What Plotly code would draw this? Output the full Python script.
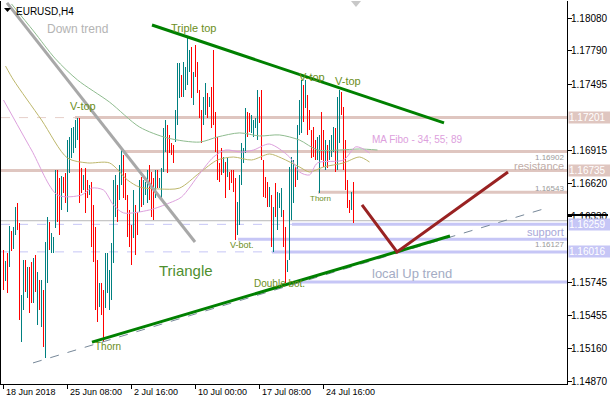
import plotly.graph_objects as go

# ---------------- data ----------------
bar_high = [1.16033, 1.15935, 1.16007, 1.16244, 1.16200, 1.16235, 1.16412, 1.16448, 1.16271, 1.15636,
 1.15944, 1.15944, 1.15882, 1.15882, 1.15926, 1.15962, 1.15989, 1.15838, 1.15768, 1.15768,
 1.15680, 1.16103, 1.16324, 1.16279, 1.16183, 1.16147, 1.16739, 1.16739, 1.16668, 1.16686,
 1.16677, 1.16713, 1.17003, 1.17030, 1.17109, 1.17118, 1.17180, 1.17197, 1.17197, 1.16756,
 1.16695, 1.16756, 1.16650, 1.16606, 1.16632, 1.16430, 1.16235, 1.15944, 1.15742, 1.15742,
 1.15680, 1.16007, 1.16007, 1.15856, 1.16095, 1.16650, 1.16695, 1.16606, 1.16783, 1.16915,
 1.16871, 1.16713, 1.16518, 1.16386, 1.16253, 1.16562, 1.16430, 1.16368, 1.16650, 1.16677,
 1.16650, 1.16632, 1.16739, 1.16783, 1.16721, 1.16668, 1.16739, 1.16739, 1.16668, 1.16756,
 1.17109, 1.17180, 1.17136, 1.17048, 1.16977, 1.16959, 1.17268, 1.17683, 1.17683, 1.17577,
 1.17691, 1.17647, 1.17921, 1.17798, 1.17824, 1.17603, 1.17842, 1.17691, 1.17445, 1.17268,
 1.17383, 1.17507, 1.17419, 1.17383, 1.17471, 1.17798, 1.17250, 1.17030, 1.16801, 1.16932,
 1.16853, 1.16809, 1.16844, 1.16721, 1.16739, 1.16739, 1.16668, 1.16456, 1.16695, 1.16977,
 1.16932, 1.17285, 1.17250, 1.17242, 1.17224, 1.17180, 1.17197, 1.17445, 1.17383, 1.17445,
 1.16827, 1.16677, 1.16632, 1.16588, 1.16518, 1.16412, 1.16624, 1.16544, 1.16536, 1.16579,
 1.16386, 1.16235, 1.15944, 1.16765, 1.16853, 1.16827, 1.16765, 1.17136, 1.17356, 1.17533,
 1.17489, 1.17533, 1.17401, 1.17268, 1.17092, 1.17118, 1.17003, 1.17030, 1.17048, 1.17250,
 1.17092, 1.17003, 1.16959, 1.17003, 1.17048, 1.17118, 1.17109, 1.17383, 1.17445, 1.17427,
 1.17294, 1.17003, 1.16650, 1.16474, 1.16544, 1.16632]

bar_low = [1.15680, 1.15759, 1.15654, 1.15882, 1.16024, 1.16042, 1.16165, 1.16209, 1.15415, 1.15220,
 1.15503, 1.15662, 1.15609, 1.15477, 1.15565, 1.15565, 1.15662, 1.15371, 1.15503, 1.15353,
 1.15176, 1.15079, 1.15742, 1.16033, 1.16007, 1.16007, 1.16226, 1.16279, 1.16165, 1.16386,
 1.16536, 1.16448, 1.16368, 1.16713, 1.16844, 1.16889, 1.16932, 1.17003, 1.16448, 1.16536,
 1.16562, 1.16360, 1.16491, 1.16518, 1.16059, 1.15926, 1.15503, 1.15397, 1.15529, 1.15459,
 1.15220, 1.15520, 1.15654, 1.15503, 1.15591, 1.15918, 1.16324, 1.16279, 1.16474, 1.16606,
 1.16491, 1.16474, 1.16147, 1.16059, 1.15900, 1.16138, 1.15989, 1.16165, 1.16368, 1.16412,
 1.16430, 1.16518, 1.16448, 1.16474, 1.16324, 1.16297, 1.16491, 1.16579, 1.16579, 1.16491,
 1.16721, 1.16897, 1.16713, 1.16889, 1.16871, 1.16801, 1.16985, 1.17136, 1.17374, 1.17383,
 1.17383, 1.17445, 1.17489, 1.17603, 1.17374, 1.17312, 1.17559, 1.17419, 1.17197, 1.16977,
 1.17136, 1.17224, 1.17197, 1.17294, 1.17109, 1.17136, 1.16897, 1.16650, 1.16632, 1.16695,
 1.16713, 1.16491, 1.16677, 1.16562, 1.16624, 1.16544, 1.16121, 1.16165, 1.16253, 1.16606,
 1.16801, 1.16889, 1.17030, 1.17074, 1.17066, 1.17030, 1.17109, 1.17003, 1.17154, 1.16827,
 1.16500, 1.16491, 1.16412, 1.16412, 1.16059, 1.16015, 1.16324, 1.16209, 1.16403, 1.16324,
 1.16059, 1.15742, 1.15838, 1.15944, 1.16297, 1.16448, 1.16588, 1.16650, 1.17048, 1.17066,
 1.17162, 1.17285, 1.17048, 1.17092, 1.16844, 1.16853, 1.16827, 1.16827, 1.16536, 1.16827,
 1.16765, 1.16739, 1.16756, 1.16827, 1.16853, 1.16897, 1.16721, 1.16739, 1.16977, 1.17224,
 1.16739, 1.16562, 1.16403, 1.16360, 1.16386, 1.16271]

bar_up = [0,1,0,1,0,1,1,0,0,1, 1,0,1,0,0,1,0,1,0,1, 0,1,1,0,1,1,1,0,0,1,
          0,0,1,1,1,1,1,1,0,0, 1,0,0,1,0,0,0,0,1,0, 0,1,1,1,1,1,1,0,1,1,
          0,0,0,0,0,1,0,0,1,0, 1,1,1,0,0,0,1,0,1,1, 1,1,0,0,0,0,1,1,1,0,
          1,1,1,1,0,1,0,0,0,0, 1,1,0,1,0,0,0,0,0,0, 1,0,1,0,0,0,0,1,1,1,
          1,1,0,0,1,1,1,1,0,0, 0,0,0,1,0,1,0,1,1,1, 0,0,1,1,1,1,0,1,1,1,
          0,1,0,0,0,0,0,1,1,0, 0,1,0,1,1,1,0,1,1,0, 0,0,0,0,1,0]

# moving averages (Fibo 34 / 55 / 89) read at sample bars
ma34_bar = [0, 14, 27, 39, 44, 50, 55, 60, 73, 83, 89, 98, 105, 111, 119, 125, 133, 143, 148, 153, 157, 170, 176, 179, 183]
ma34_val = [1.17356, 1.16915, 1.16518, 1.16518, 1.16579, 1.16562, 1.16430, 1.16360, 1.16386, 1.16448, 1.16500,
            1.16704, 1.16853, 1.16915, 1.16897, 1.16915, 1.16968, 1.16853, 1.16721, 1.16695, 1.16801, 1.16827,
            1.16942, 1.16932, 1.16889]
ma55_bar = [1, 5, 19, 32, 42, 53, 62, 68, 78, 88, 98, 107, 115, 124, 133, 139, 148, 153, 160, 170, 178, 183]
ma55_val = [1.17656, 1.17533, 1.17180, 1.16844, 1.16801, 1.16801, 1.16650, 1.16588, 1.16571, 1.16579, 1.16713,
            1.16827, 1.16853, 1.16827, 1.16880, 1.16844, 1.16765, 1.16721, 1.16765, 1.16801, 1.16853, 1.16809]
ma89_bar = [4, 15, 26, 37, 53, 68, 82, 98, 107, 118, 128, 138, 148, 157, 168, 178, 187]
ma89_val = [1.18204, 1.17965, 1.17719, 1.17533, 1.17338, 1.17118, 1.17021, 1.16985, 1.17030, 1.17066, 1.17039,
            1.17048, 1.17003, 1.16915, 1.16915, 1.16924, 1.16915]

# analyst drawings (bar index, price)
down_trend_x, down_trend_y = [1.75, 95.75], [1.18213, 1.16103]
tri_upper_x, tri_upper_y = [74.25, 220.25], [1.18018, 1.17154]
tri_lower_x, tri_lower_y = [44.25, 223.25], [1.15220, 1.16156]
base_line_x, base_line_y = [14.75, 273.25], [1.15036, 1.16412]
projection_x, projection_y = [179.25, 196.75, 252.25], [1.16430, 1.16015, 1.16721]

# horizontal levels
res_prices = [1.17201, 1.16902, 1.16735, 1.16543]
res_start = [35.75, 59.75, -1.25, 157.25]
sup_prices = [1.16259, 1.16127, 1.16016, 1.15750]
sup_start = [144.25, 117.25, 134.25, 148.25]
dashed_res = [1.17201]
dashed_sup = [1.16259, 1.16016]
gray_level = 1.16291
bid_price = 1.16342

price_ticks = [1.18080, 1.17790, 1.17495, 1.16915, 1.16620, 1.16330, 1.15745, 1.15455, 1.15160, 1.14870]
price_tick_text = ["1.18080", "1.17790", "1.17495", "1.16915", "1.16620", "1.16330",
                   "1.15745", "1.15455", "1.15160", "1.14870"]
hl_text = ["1.17201", "1.16735", "1.16259", "1.16016"]
hl_price = [1.17201, 1.16735, 1.16259, 1.16016]
hl_color = ["#dfc6c0", "#dfc6c0", "#c6c6f6", "#c6c6f6"]

time_tick_bars = [0, 32, 64, 96, 128, 160]
time_tick_text = ["18 Jun 2018", "25 Jun 08:00", "2 Jul 16:00", "10 Jul 00:00", "17 Jul 08:00", "24 Jul 16:00"]

label_text = ["Down trend", "Triple top", "V-top", "V-top", "V-top", "Thorn", "Thorn", "V-bot.",
              "Double bot.", "Triangle", "MA Fibo - 34; 55; 89", "local Up trend"]
label_x = [20.75, 82.5, 32.25, 146.75, 164.75, 44.75, 152.25, 112.25, 124.25, 76.75, 183.25, 183.25]
label_y = [1.17983, 1.17992, 1.17303, 1.17559, 1.17524, 1.15185, 1.16491, 1.16077, 1.15733, 1.15856, 1.17012, 1.15829]
label_size = [12, 11, 11, 11, 11, 10, 8, 9, 10, 15, 10, 13]
OLV = "#6b8e23"
label_color = ["#b4b4b4", OLV, OLV, OLV, OLV, OLV, OLV, OLV, OLV, "#4f8f2f", "#dda0dd", "#a4acc4"]

right_text = ["1.16902", "resistance", "1.16543", "support", "1.16127"]
right_y = [1.16850, 1.16775, 1.16579, 1.16191, 1.16077]
right_size = [8, 11, 8, 11, 8]
right_color = ["#9a9a9a", "#c0aca6", "#9a9a9a", "#a8a8d8", "#9a9a9a"]

# ---------------- figure ----------------
X_MIN, X_MAX = -1.25, 281.75        # 2 px per bar
Y_MIN, Y_MAX = 1.14850, 1.18230
FONT = "Liberation Sans, Arial, sans-serif"
PLOT_BOTTOM = 384.0
PLOT_H = 383.0

fig = go.Figure()

shapes = []
for p in dashed_res:
    shapes.append(dict(type="line", xref="x", yref="y", x0=X_MIN, x1=X_MAX, y0=p, y1=p, layer="below",
                       line=dict(color="#e6cfc9", width=1, dash="dash")))
for p in dashed_sup:
    shapes.append(dict(type="line", xref="x", yref="y", x0=X_MIN, x1=X_MAX, y0=p, y1=p, layer="below",
                       line=dict(color="#c6c6f6", width=1, dash="dash")))
shapes.append(dict(type="line", xref="x", yref="y", x0=X_MIN, x1=X_MAX, y0=gray_level, y1=gray_level,
                   layer="below", line=dict(color="#b8b8b8", width=1)))
for p, s in zip(res_prices, res_start):
    shapes.append(dict(type="line", xref="x", yref="y", x0=s, x1=X_MAX, y0=p, y1=p, layer="below",
                       line=dict(color="#dfc6c0", width=3)))
for p, s in zip(sup_prices, sup_start):
    shapes.append(dict(type="line", xref="x", yref="y", x0=s, x1=X_MAX, y0=p, y1=p, layer="below",
                       line=dict(color="#c6c6f6", width=3)))

# bars
for up, col in [(1, "#008080"), (0, "#ff0000")]:
    xs, ys = [], []
    for i, (h, l, u) in enumerate(zip(bar_high, bar_low, bar_up)):
        if u == up:
            xs += [i, i, None]
            ys += [l, h, None]
    fig.add_trace(go.Scatter(x=xs, y=ys, mode="lines", line=dict(color=col, width=1),
                             hoverinfo="skip", showlegend=False))

# moving averages
for bx, vy, col in [(ma89_bar, ma89_val, "#8fbc8f"), (ma55_bar, ma55_val, "#bdb76b"), (ma34_bar, ma34_val, "#dda0dd")]:
    fig.add_trace(go.Scatter(x=bx, y=vy, mode="lines", line=dict(color=col, width=1, shape="spline", smoothing=0.8),
                             hoverinfo="skip", showlegend=False))

# drawings
fig.add_trace(go.Scatter(x=base_line_x, y=base_line_y, mode="lines",
                         line=dict(color="#778899", width=1, dash="dash"), hoverinfo="skip", showlegend=False))
fig.add_trace(go.Scatter(x=down_trend_x, y=down_trend_y, mode="lines",
                         line=dict(color="#a8a8a8", width=3), hoverinfo="skip", showlegend=False))
fig.add_trace(go.Scatter(x=tri_upper_x, y=tri_upper_y, mode="lines",
                         line=dict(color="#008000", width=3), hoverinfo="skip", showlegend=False))
fig.add_trace(go.Scatter(x=tri_lower_x, y=tri_lower_y, mode="lines",
                         line=dict(color="#008000", width=3), hoverinfo="skip", showlegend=False))
fig.add_trace(go.Scatter(x=projection_x, y=projection_y, mode="lines",
                         line=dict(color="#992222", width=3), hoverinfo="skip", showlegend=False))

annotations = []
for t, x, y, s, c in zip(label_text, label_x, label_y, label_size, label_color):
    annotations.append(dict(text=t, x=x, y=y, xref="x", yref="y", xanchor="left", yanchor="middle",
                            showarrow=False, font=dict(family=FONT, size=s, color=c)))
for t, y, s, c in zip(right_text, right_y, right_size, right_color):
    annotations.append(dict(text=t, x=1, y=y, xref="paper", yref="y", xanchor="right", yanchor="middle",
                            xshift=-1, showarrow=False, font=dict(family=FONT, size=s, color=c)))
# price axis labels
for t, y in zip(price_tick_text, price_ticks):
    annotations.append(dict(text=t, x=1, y=y, xref="paper", yref="y", xanchor="left", yanchor="middle",
                            xshift=2, showarrow=False, font=dict(family=FONT, size=10, color="black")))
for t, y, c in zip(hl_text, hl_price, hl_color):
    annotations.append(dict(text=t, x=1, y=y, xref="paper", yref="y", xanchor="left", yanchor="middle",
                            xshift=1, width=42, height=11, align="left", bgcolor=c, borderpad=0,
                            showarrow=False, font=dict(family=FONT, size=10, color="white")))
# time axis labels
for t, b in zip(time_tick_text, time_tick_bars):
    annotations.append(dict(text=t, x=b, y=-(392 - PLOT_BOTTOM) / PLOT_H, xref="x", yref="paper",
                            xanchor="left", yanchor="middle", xshift=0, showarrow=False,
                            font=dict(family=FONT, size=9, color="black")))
annotations.append(dict(text="EURUSD,H4", x=(14 - 1) / 566, y=(PLOT_BOTTOM - 11) / PLOT_H, xref="paper", yref="paper",
                        xanchor="left", yanchor="middle", showarrow=False,
                        font=dict(family=FONT, size=10, color="black")))

# bid marker on axis, small triangles
shapes.append(dict(type="line", xref="paper", yref="y", x0=1, x1=(608 - 1) / 566, y0=bid_price, y1=bid_price,
                   line=dict(color="black", width=2)))
shapes.append(dict(type="path", xref="paper", yref="paper",
                   path="M %f %f L %f %f L %f %f Z" % ((4 - 1) / 566, (PLOT_BOTTOM - 8) / PLOT_H,
                                                      (11 - 1) / 566, (PLOT_BOTTOM - 8) / PLOT_H,
                                                      (7.5 - 1) / 566, (PLOT_BOTTOM - 12) / PLOT_H),
                   fillcolor="black", line=dict(width=0)))
shapes.append(dict(type="path", xref="paper", yref="paper",
                   path="M %f %f L %f %f L %f %f Z" % ((351 - 1) / 566, (PLOT_BOTTOM - 1) / PLOT_H,
                                                      (361 - 1) / 566, (PLOT_BOTTOM - 1) / PLOT_H,
                                                      (356 - 1) / 566, (PLOT_BOTTOM - 7) / PLOT_H),
                   fillcolor="#c8c8c8", line=dict(width=0)))

fig.update_layout(
    width=610, height=400,
    margin=dict(l=1, r=43, t=1, b=16, autoexpand=False),
    plot_bgcolor="white", paper_bgcolor="white",
    showlegend=False,
    shapes=shapes, annotations=annotations,
    xaxis=dict(range=[X_MIN, X_MAX], showgrid=False, zeroline=False, showline=True, linecolor="black",
               linewidth=1, ticks="outside", ticklen=4, tickcolor="black", tickvals=time_tick_bars,
               showticklabels=False, automargin=False, fixedrange=True),
    yaxis=dict(range=[Y_MIN, Y_MAX], side="right", showgrid=False, zeroline=False, showline=True,
               linecolor="black", linewidth=1, mirror=True, ticks="outside", ticklen=4, tickcolor="black",
               tickvals=price_ticks, showticklabels=False, automargin=False, fixedrange=True),
)

post = (
    "document.body.style.margin='0';document.body.style.overflow='hidden';"
    "var tr=document.querySelectorAll('.scatterlayer .trace');"
    "for(var k=0;k<2&&k<tr.length;k++){tr[k].querySelectorAll('path').forEach(function(p){"
    "p.style.shapeRendering='crispEdges';});}"
)
fig.write_html("out.html", config={"displayModeBar": False}, post_script=post)
